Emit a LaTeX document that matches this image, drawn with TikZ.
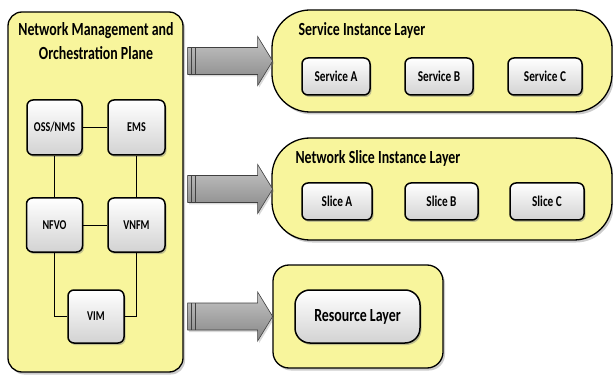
\documentclass[tikz,border=0pt]{standalone}
\usepackage{fontspec}
\setmainfont{Carlito}[FakeStretch=0.75]
\usepackage{tikz}
\usetikzlibrary{shadows,positioning}

\definecolor{layeryellow}{HTML}{F8F59C}
\definecolor{arrowedge}{HTML}{404040}

\begin{document}
\begin{tikzpicture}[x=1pt,y=-1pt,
  plane/.style={draw=black, line width=1.3pt, fill=layeryellow,
    drop shadow={shadow xshift=2pt, shadow yshift=-2.5pt, opacity=0.4}},
  funcbox/.style={draw=black, line width=1.5pt, rounded corners=6pt,
    top color=white, bottom color=gray!35, font=\bfseries\fontsize{15}{17}\selectfont,
    drop shadow={shadow xshift=1.5pt, shadow yshift=-2pt, opacity=0.45}},
  nfbox/.style={funcbox, font=\bfseries\fontsize{13.5}{15}\selectfont},
  layertitle/.style={font=\bfseries\fontsize{18.5}{20}\selectfont, anchor=west},
  blockarrow/.style={draw=arrowedge, line width=0.6pt, top color=gray!45, middle color=gray!70, bottom color=gray!95,
    drop shadow={shadow xshift=1.5pt, shadow yshift=-2pt, opacity=0.3}},
  link/.style={draw=black, line width=0.7pt}]
\useasboundingbox (0,0) rectangle (613,382);

% management and orchestration plane
\node[plane, rounded corners=14pt, minimum width=175pt, minimum height=360pt] (mano) at (95.5,192) {};
\node[font=\bfseries\fontsize{18.5}{24}\selectfont, align=center] (manotitle) at (96,41) {Network Management and\\Orchestration Plane};

\node[nfbox, minimum width=55pt, minimum height=55pt] (oss) at (54.5,127.5) {OSS/NMS};
\node[nfbox, minimum width=57pt, minimum height=55pt] (ems) at (136.5,127.5) {EMS};
\node[nfbox, minimum width=56pt, minimum height=54pt] (nfvo) at (54.5,225) {NFVO};
\node[nfbox, minimum width=57pt, minimum height=54pt] (vnfm) at (136.5,225) {VNFM};
\node[nfbox, minimum width=56pt, minimum height=53pt] (vim) at (96,316.5) {VIM};

\draw[link] (oss) -- (ems);
\draw[link] (nfvo) -- (vnfm);
\draw[link] (oss) -- (nfvo);
\draw[link] (ems) -- (vnfm);
\draw[link] (nfvo.south) |- (vim.west);
\draw[link] (vnfm.south) |- (vim.east);

% layers
\node[plane, rounded corners=38pt, minimum width=340pt, minimum height=102pt] (sil) at (442,61) {};
\node[layertitle] (siltitle) at (295,30) {Service Instance Layer};
\node[funcbox, minimum width=68pt, minimum height=37pt] (sva) at (336,76.5) {Service A};
\node[funcbox, minimum width=68pt, minimum height=37pt] (svb) at (439,76.5) {Service B};
\node[funcbox, minimum width=74pt, minimum height=37pt] (svc) at (545,76.5) {Service C};

\node[plane, rounded corners=38pt, minimum width=340pt, minimum height=102pt] (nsl) at (442,189) {};
\node[layertitle] (nsltitle) at (292,158) {Network Slice Instance Layer};
\node[funcbox, minimum width=70pt, minimum height=37pt] (sla) at (337,201.5) {Slice A};
\node[funcbox, minimum width=73pt, minimum height=37pt] (slb) at (441.5,201.5) {Slice B};
\node[funcbox, minimum width=74pt, minimum height=37pt] (slc) at (547,201.5) {Slice C};

\node[plane, rounded corners=16pt, minimum width=170pt, minimum height=103pt] (rl) at (358,316.5) {};
\node[funcbox, rounded corners=15pt, minimum width=125pt, minimum height=53pt,
  font=\bfseries\fontsize{18.5}{21}\selectfont] (rlbox) at (357.5,316.5) {Resource Layer};

% block arrows
\foreach \lay in {sil,nsl,rl}{
  \draw[blockarrow] (mano.east |- \lay.west) ++(4,-13.5) -- ++(70,0) -- ++(0,-11)
    -- ++(15,24.5) -- ++(-15,24.5) -- ++(0,-11) -- ++(-70,0) -- cycle;
  \draw[arrowedge, line width=1pt] (mano.east |- \lay.west) ++(8,-13.5) -- ++(0,27) ++(4,0) -- ++(0,-27);
}
\end{tikzpicture}
\end{document}
